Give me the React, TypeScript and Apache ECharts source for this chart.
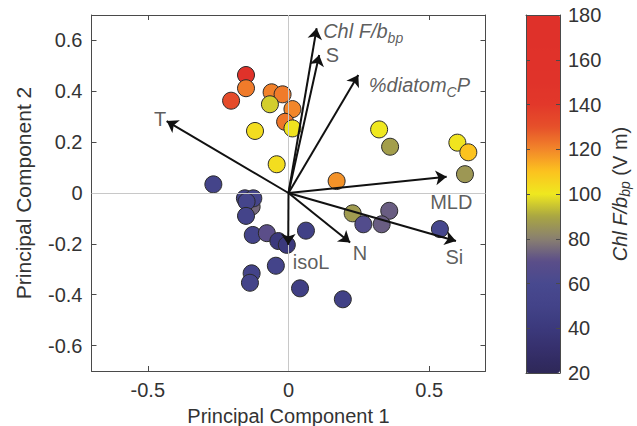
import React, { useEffect, useRef } from 'react';
import * as echarts from 'echarts';

const FONT = '"Liberation Sans", Arial, Helvetica, sans-serif';

// Scores (PC1, PC2) and colour value (Chl F/bbp, V m)
const pointX = [-0.151, -0.151, -0.204, -0.060, -0.021, -0.066, 0.014, -0.012, 0.014, -0.119, -0.042, 0.322, 0.361, 0.600, 0.639, 0.627, 0.171, -0.267,
  -0.131, -0.155, -0.125, -0.149, -0.151, -0.127, -0.077, -0.036, -0.006, -0.045, -0.131, -0.137, 0.062, 0.228, 0.266, 0.358, 0.331, 0.538, 0.041, 0.193];
const pointY = [0.464, 0.412, 0.363, 0.396, 0.388, 0.349, 0.330, 0.280, 0.254, 0.244, 0.113, 0.250, 0.182, 0.198, 0.160, 0.074, 0.047, 0.034,
  -0.054, -0.021, -0.021, -0.034, -0.090, -0.165, -0.158, -0.189, -0.204, -0.286, -0.316, -0.353, -0.148, -0.080, -0.123, -0.070, -0.123, -0.142, -0.375, -0.418];
const pointV = [160, 122, 132, 121, 122, 96, 120, 123, 101, 103, 103, 100, 88, 101, 110, 86, 118, 52,
  75, 52, 52, 53, 52, 52, 70, 40, 40, 52, 50, 52, 48, 87, 65, 73, 73, 56, 46, 48];

// Loadings (arrow tips)
const arrowLabels = ['{i|Chl F/b}{s|bp}', '{n|S}', '{i|%diatom}{s|C}{i|P}', '{n|MLD}', '{n|Si}', '{n|N}', '{n|isoL}', '{n|T}'];
const arrowX = [0.100, 0.109, 0.248, 0.562, 0.595, 0.219, -0.001, -0.433];
const arrowY = [0.648, 0.543, 0.464, 0.064, -0.189, -0.195, -0.204, 0.283];

// label placement styling (pixels)
const labelOffsets = [[6, 3], [6, 0], [10, 10], [-17, 25], [-11, 16], [2, 10], [4, 17], [-1, -2]];
const labelAligns = ['left', 'left', 'left', 'left', 'left', 'left', 'left', 'right'];

const xTicks = [-0.5, 0, 0.5];
const yTicks = [-0.6, -0.4, -0.2, 0, 0.2, 0.4, 0.6];
const cbarMin = 20;
const cbarMax = 180;
const cbarColors = ['#2e2858', '#352f6b', '#3b397c', '#434389', '#48498f', '#5b4e89', '#8a8070', '#a9a642',
  '#efe81f', '#fcc31f', '#f2862a', '#e6502a', '#e2382a', '#e0332a', '#e0322a', '#df312a', '#df312a'];

const AXIS_COLOR = '#4a4a4a';
const TEXT_COLOR = '#333';

export default function App() {
  const ref = useRef<HTMLDivElement>(null);
  useEffect(() => {
    if (!ref.current) return;
    const chart = echarts.init(ref.current, undefined, { renderer: 'svg' });
    const richText = {
      i: { fontStyle: 'italic', fontSize: 20, fontFamily: FONT, color: TEXT_COLOR, lineHeight: 28, verticalAlign: 'middle' },
      s: { fontStyle: 'italic', fontSize: 14, fontFamily: FONT, color: TEXT_COLOR, lineHeight: 28, verticalAlign: 'bottom' },
      n: { fontSize: 20, fontFamily: FONT, color: TEXT_COLOR, lineHeight: 28 },
    };
    const cbRich = {
      i: { fontStyle: 'italic', fontSize: 20, fontFamily: FONT, color: TEXT_COLOR, lineHeight: 24, verticalAlign: 'middle' },
      s: { fontStyle: 'italic', fontSize: 14, fontFamily: FONT, color: TEXT_COLOR, lineHeight: 24, verticalAlign: 'bottom' },
      n: { fontSize: 20, fontFamily: FONT, color: TEXT_COLOR, lineHeight: 24 },
    };
    const mainTick = { show: true, inside: true, length: 5, lineStyle: { color: AXIS_COLOR, width: 1 } };
    const axisLine = { show: true, onZero: false, lineStyle: { color: AXIS_COLOR, width: 1 } };
    const labelStyle = { fontSize: 20, color: TEXT_COLOR, fontFamily: FONT };
    const option: any = {
      animation: false,
      backgroundColor: '#fff',
      grid: [
        { left: 91.5, top: 15, width: 394, height: 356, outerBoundsMode: 'none', containLabel: false },
        { left: 526, top: 15, width: 34, height: 358, outerBoundsMode: 'none', containLabel: false },
      ],
      xAxis: [
        {
          gridIndex: 0, type: 'value', min: -0.7, max: 0.7, position: 'bottom',
          axisLine, axisTick: { ...mainTick, customValues: xTicks },
          axisLabel: { ...labelStyle, margin: 9, customValues: xTicks, formatter: (v: number) => String(v) },
          splitLine: { show: false },
          name: 'Principal Component 1', nameLocation: 'middle', nameGap: 27,
          nameTextStyle: { fontSize: 20, color: TEXT_COLOR, fontFamily: FONT, lineHeight: 22 },
        },
        {
          gridIndex: 0, type: 'value', min: -0.7, max: 0.7, position: 'top',
          axisLine, axisTick: { ...mainTick, customValues: xTicks },
          axisLabel: { show: false }, splitLine: { show: false },
        },
        {
          gridIndex: 1, type: 'value', min: 0, max: 1, position: 'bottom', z: 10,
          axisLine, axisTick: { show: false }, axisLabel: { show: false }, splitLine: { show: false },
        },
        {
          gridIndex: 1, type: 'value', min: 0, max: 1, position: 'top', z: 10,
          axisLine, axisTick: { show: false }, axisLabel: { show: false }, splitLine: { show: false },
        },
      ],
      yAxis: [
        {
          gridIndex: 0, type: 'value', min: -0.7, max: 0.7, position: 'left',
          axisLine, axisTick: { ...mainTick, customValues: yTicks },
          axisLabel: { ...labelStyle, margin: 9, customValues: yTicks, formatter: (v: number) => String(v) },
          splitLine: { show: false },
          name: 'Principal Component 2', nameLocation: 'middle', nameGap: 58,
          nameTextStyle: { fontSize: 21, color: TEXT_COLOR, fontFamily: FONT },
        },
        {
          gridIndex: 0, type: 'value', min: -0.7, max: 0.7, position: 'right',
          axisLine, axisTick: { ...mainTick, customValues: yTicks },
          axisLabel: { show: false }, splitLine: { show: false },
        },
        {
          gridIndex: 1, type: 'value', min: cbarMin, max: cbarMax, interval: 20, position: 'left', z: 10,
          axisLine, axisTick: { show: true, inside: true, length: 4, lineStyle: { color: AXIS_COLOR } },
          axisLabel: { show: false }, splitLine: { show: false },
        },
        {
          gridIndex: 1, type: 'value', min: cbarMin, max: cbarMax, interval: 20, position: 'right', z: 10,
          axisLine, axisTick: { show: true, inside: true, length: 4, lineStyle: { color: AXIS_COLOR } },
          axisLabel: { ...labelStyle, margin: 8 }, splitLine: { show: false },
          name: '{i|Chl F/b}{s|bp}{n| (V m)}', nameLocation: 'middle', nameGap: 48, nameRotate: 90,
          nameTextStyle: { rich: cbRich },
        },
      ],
      visualMap: {
        type: 'continuous', min: cbarMin, max: cbarMax, dimension: 2, seriesIndex: 0,
        inRange: { color: cbarColors }, left: 526, top: 15, itemWidth: 34, itemHeight: 358,
        padding: 0, calculable: false, orient: 'vertical', hoverLink: false, text: ['', ''],
      },
      series: [
        {
          type: 'scatter', xAxisIndex: 0, yAxisIndex: 0, z: 3,
          symbolSize: 17,
          itemStyle: { borderColor: '#2a2a2a', borderWidth: 1, opacity: 1 },
          data: pointX.map((x, i) => [x, pointY[i], pointV[i]]),
        },
        {
          type: 'scatter', xAxisIndex: 0, yAxisIndex: 0, z: 1, data: [],
          markLine: {
            silent: true, symbol: ['none', 'none'], label: { show: false },
            lineStyle: { color: '#c8c8c8', width: 1, type: 'solid' },
            data: [{ xAxis: 0 }, { yAxis: 0 }],
          },
        },
        {
          type: 'lines', coordinateSystem: 'cartesian2d', xAxisIndex: 0, yAxisIndex: 0, z: 5,
          symbol: ['none', 'arrow'], symbolSize: 11,
          lineStyle: { color: '#111', width: 2, opacity: 1 },
          data: arrowX.map((x, i) => ({ coords: [[0, 0], [x, arrowY[i]]] })),
        },
        {
          type: 'scatter', xAxisIndex: 0, yAxisIndex: 0, z: 6, symbolSize: 1,
          itemStyle: { color: 'transparent' },
          data: arrowX.map((x, i) => ({
            value: [x, arrowY[i]],
            label: {
              show: true, position: 'right', distance: 0, offset: labelOffsets[i],
              align: labelAligns[i], verticalAlign: 'middle', formatter: arrowLabels[i], rich: richText,
            },
          })),
        },
      ],
    };
    chart.setOption(option);
    return () => chart.dispose();
  }, []);
  return <div ref={ref} style={{ position: 'fixed', left: 0, top: 0, width: 637, height: 426, background: '#fff' }} />;
}
